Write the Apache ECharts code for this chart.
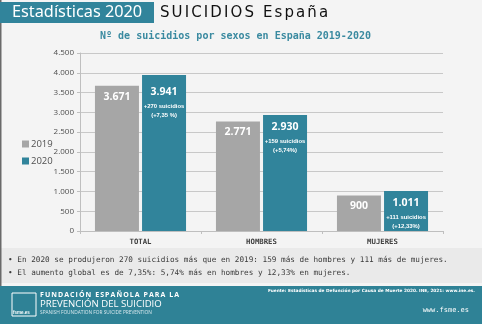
<!DOCTYPE html>
<html><head><meta charset="utf-8">
<script src="https://cdn.jsdelivr.net/npm/echarts@6/dist/echarts.min.js"></script>
<style>
html,body{margin:0;padding:0;background:#f4f4f4}
#wrap{position:relative;width:482px;height:324px}
#c{width:482px;height:324px}
.ov{position:absolute;white-space:nowrap;line-height:1}
#hdr{left:160px;top:5px;font-family:'DejaVu Sans';font-size:15px;letter-spacing:2.1px;color:#111}
#fund{left:40px;top:290.5px;font-family:'Open Sans';font-weight:bold;font-size:7px;letter-spacing:1.05px;color:#fff}
</style>
</head><body><div id="wrap"><div id="c"></div>
<div id="hdr" class="ov">SUICIDIOS España</div>
<div id="fund" class="ov">FUNDACIÓN ESPAÑOLA PARA LA</div>
</div>
<script>
var categories = ['TOTAL', 'HOMBRES', 'MUJERES'];
var values2019 = [3671, 2771, 900];
var values2020 = [3941, 2930, 1011];
var increases = ['+270 suicidios', '+159 suicidios', '+111 suicidios'];
var percents = ['(+7,35 %)', '(+5,74%)', '(+12,33%)'];
var seriesNames = ['2019', '2020'];
var yTicks = {min: 0, max: 4500, interval: 500};
var bullets = [
  '• En 2020 se produjeron 270 suicidios más que en 2019: 159 más de hombres y 111 más de mujeres.',
  '• El aumento global es de 7,35%: 5,74% más en hombres y 12,33% en mujeres.'
];

function fmt(n){ return String(n).replace(/\B(?=(\d{3})+(?!\d))/g, '.'); }

var TEAL = '#31849b', GREY = '#a6a6a6';
var chart = echarts.init(document.getElementById('c'), null, {renderer: 'canvas'});

var data2020 = values2020.map(function(v, i){
  var item = {value: v};
  if (i === 0) { item.label = {distance: 7}; }
  return item;
});

var option = {
  backgroundColor: '#f4f4f4',
  animation: false,
  title: {
    text: 'Nº de suicidios por sexos en España 2019-2020',
    left: 230.5, top: 26, textAlign: 'center',
    textStyle: {fontFamily: 'DejaVu Sans Mono', fontWeight: 'bold', fontSize: 10, color: '#3a8aa0'}
  },
  legend: {
    orient: 'vertical', left: 17, top: 134,
    icon: 'rect', itemWidth: 7, itemHeight: 7, itemGap: 7,
    textStyle: {fontFamily: 'Open Sans', fontSize: 9.5, color: '#505050', lineHeight: 10, padding: [0,0,0,-3]},
    data: seriesNames
  },
  grid: {left: 80, right: 39, top: 53, bottom: 93},
  xAxis: {
    type: 'category', data: categories,
    axisLine: {lineStyle: {color: '#bfbfbf'}},
    axisTick: {show: true, length: 3, lineStyle: {color: '#bfbfbf'}},
    axisLabel: {fontFamily: 'DejaVu Sans Mono', fontWeight: 'bold', fontSize: 7.3, color: '#404040', margin: 8}
  },
  yAxis: {
    type: 'value', min: yTicks.min, max: yTicks.max, interval: yTicks.interval,
    axisLine: {show: true, lineStyle: {color: '#bfbfbf'}},
    axisTick: {show: true, length: 3, lineStyle: {color: '#bfbfbf'}},
    axisLabel: {fontFamily: 'Open Sans', fontSize: 8, color: '#505050', margin: 6, formatter: fmt},
    splitLine: {lineStyle: {color: '#c8c8c8'}}
  },
  series: [
    {
      name: seriesNames[0], type: 'bar', data: values2019, barWidth: 44, barGap: '7%',
      itemStyle: {color: GREY},
      label: {show: true, position: 'insideTop', distance: 4, color: '#fff',
        fontFamily: 'Open Sans', fontWeight: 'bold', fontSize: 10.5, lineHeight: 14,
        formatter: function(p){ return fmt(p.value); }}
    },
    {
      name: seriesNames[1], type: 'bar', data: data2020, barWidth: 44,
      itemStyle: {color: TEAL},
      label: {show: true, position: 'insideTop', distance: 2, color: '#fff',
        formatter: function(p){
          return '{v|' + fmt(p.value) + '}\n{a|' + increases[p.dataIndex] + '}\n{a|' + percents[p.dataIndex] + '}';
        },
        rich: {
          v: {fontFamily: 'Open Sans', fontWeight: 'bold', fontSize: 10.5, lineHeight: 20, color: '#fff'},
          a: {fontFamily: 'Liberation Sans', fontWeight: 'bold', fontSize: 5.9, lineHeight: 9, color: '#fff'}
        }}
    }
  ],
  graphic: [
    {type: 'rect', z: -10, shape: {x: 0, y: 248, width: 482, height: 35}, style: {fill: '#eaeaea'}},
    {type: 'rect', z: -10, shape: {x: 0, y: 0, width: 1.5, height: 324}, style: {fill: '#6a6a6a'}},
    {type: 'rect', shape: {x: 0, y: 2, width: 154, height: 21}, style: {fill: TEAL}},
    {type: 'text', x: 12, y: 12.5, style: {text: 'Estadísticas 2020', fill: '#fff', fontFamily: 'Noto Sans', fontSize: 16.3, verticalAlign: 'middle'}},
    {type: 'text', x: 8, y: 260, style: {text: bullets[0], fill: '#3c3c3c', fontFamily: 'DejaVu Sans Mono', fontSize: 7.7, verticalAlign: 'middle'}},
    {type: 'text', x: 8, y: 273, style: {text: bullets[1], fill: '#3c3c3c', fontFamily: 'DejaVu Sans Mono', fontSize: 7.7, verticalAlign: 'middle'}},
    {type: 'rect', shape: {x: 0, y: 286, width: 482, height: 38}, style: {fill: '#2f8296'}},
    {type: 'rect', shape: {x: 12, y: 293, width: 24, height: 23}, style: {fill: 'none', stroke: '#fff', lineWidth: 1}},
    {type: 'text', x: 13, y: 312.5, style: {text: 'fsme.es', fill: '#fff', fontFamily: 'Liberation Sans', fontWeight: 'bold', fontSize: 4.5, verticalAlign: 'middle'}},
    {type: 'text', x: 40, y: 304.5, style: {text: 'PREVENCIÓN DEL SUICIDIO', fill: '#fff', fontFamily: 'Open Sans', fontSize: 9.6, verticalAlign: 'middle'}},
    {type: 'text', x: 40, y: 313, style: {text: 'SPANISH FOUNDATION FOR SUICIDE PREVENTION', fill: '#d8e8ee', fontFamily: 'Open Sans', fontSize: 4.8, verticalAlign: 'middle'}},
    {type: 'text', x: 475, y: 290.5, style: {text: 'Fuente: Estadísticas de Defunción por Causa de Muerte 2020. INE, 2021: www.ine.es.', fill: '#fff', fontFamily: 'DejaVu Sans', fontWeight: 'bold', fontSize: 4.3, align: 'right', verticalAlign: 'middle'}},
    {type: 'text', x: 469, y: 310.5, style: {text: 'www.fsme.es', fill: '#fff', fontFamily: 'DejaVu Sans Mono', fontSize: 7, align: 'right', verticalAlign: 'middle'}}
  ]
};
chart.setOption(option);
</script></body></html>
